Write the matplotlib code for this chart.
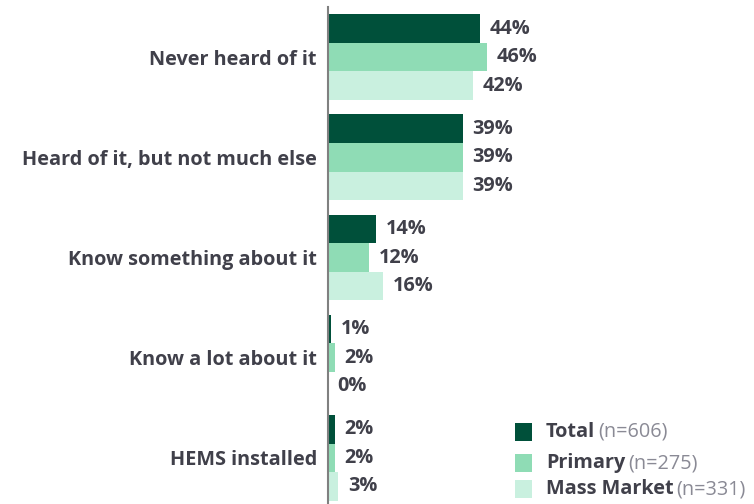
import matplotlib
matplotlib.use("Agg")
import matplotlib.pyplot as plt
from matplotlib.patches import Rectangle

categories = ["Never heard of it", "Heard of it, but not much else",
              "Know something about it", "Know a lot about it", "HEMS installed"]
series_names = ["Total", "Primary", "Mass Market"]
series_n = ["(n=606)", "(n=275)", "(n=331)"]
total = [44, 39, 14, 1, 2]
primary = [46, 39, 12, 2, 2]
mass_market = [42, 39, 16, 0, 3]
values = [total, primary, mass_market]
colors = ["#00503a", "#8fdcb5", "#c9f0df"]

plt.rcParams['font.family'] = ['Open Sans', 'DejaVu Sans']
fig = plt.figure(figsize=(7.54, 5.04), dpi=100)
ax = fig.add_axes([328/754, 0, 1 - 328/754, 1 - 7/504])

FS = 14.3
txtcol = '#40404a'
bh = 0.285
for i, (vals, col) in enumerate(zip(values, colors)):
    ys = [c + (i - 1) * bh for c in range(len(categories))]
    ax.barh(ys, vals, height=bh, color=col, edgecolor='none')
    for y, v in zip(ys, vals):
        ax.annotate(f"{v}%", (v, y), xytext=(7, 0), textcoords='offset points',
                    va='center', ha='left', fontsize=FS, fontweight='bold', color=txtcol)

ax.set_ylim(4.46, -0.5)
ax.set_xlim(0, (754 - 328) / 3.45)
ax.set_yticks(range(len(categories)))
ax.set_yticklabels(categories, fontsize=FS, fontweight='bold', color=txtcol)
ax.tick_params(axis='y', length=0, pad=8)
ax.set_xticks([])
for s in ['top', 'right', 'bottom']:
    ax.spines[s].set_visible(False)
ax.spines['left'].set_color('#808080')
ax.spines['left'].set_linewidth(1.5)

# legend
fig.canvas.draw()
renderer = fig.canvas.get_renderer()
ly = [432, 463, 489]
for name, n, col, y in zip(series_names, series_n, colors, ly):
    fy = 1 - y / 504
    fig.patches.append(Rectangle((515/754, fy - 9/504), 17/754, 18/504,
                                 transform=fig.transFigure, facecolor=col, edgecolor='none'))
    t = fig.text(546/754, fy, name, fontsize=FS, fontweight='bold', color=txtcol,
                 va='center', ha='left')
    bb = t.get_window_extent(renderer)
    fig.text((bb.x1 + 3) / 754, fy, n, fontsize=FS, color='#8a8a95', va='center', ha='left')

fig.savefig("out.png", dpi=100)
